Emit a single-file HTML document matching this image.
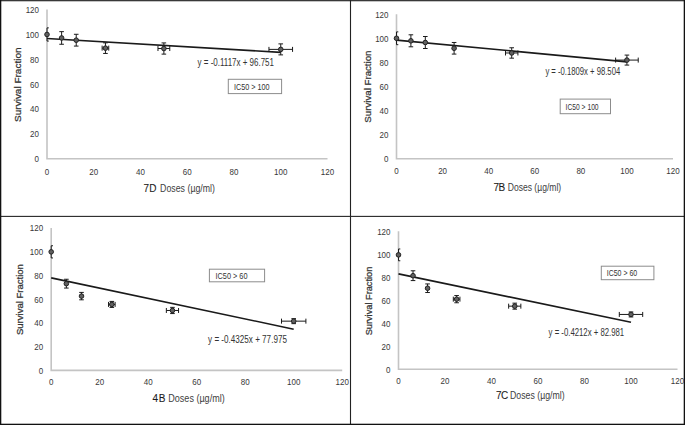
<!DOCTYPE html>
<html><head><meta charset="utf-8"><style>
html,body{margin:0;padding:0;background:#fff;}
body{width:685px;height:425px;overflow:hidden;}
svg{display:block;}
text{font-family:"Liberation Sans", sans-serif;}
.tk{font-size:9.4px;fill:#383838;}
.eq{font-size:10.2px;fill:#333;}
.bx{font-size:9px;fill:#333;}
.yt{font-size:9.3px;fill:#333;stroke:#333;stroke-width:0.25px;}
.xt{font-size:10px;fill:#404040;}
.xb{font-size:10px;fill:#1a1a1a;stroke:#1a1a1a;stroke-width:0.08px;}
</style></head><body>
<svg width="685" height="425" viewBox="0 0 685 425">
<rect x="0" y="0" width="685" height="425" fill="#fff"/>
<rect x="0" y="0" width="685" height="1.3" fill="#383838"/>
<rect x="349.95" y="0" width="1.1" height="425" fill="#222"/>
<rect x="0" y="215.85" width="685" height="1.1" fill="#262626"/>
<rect x="0" y="0" width="1.3" height="425" fill="#111"/>
<rect x="683.7" y="0" width="1.3" height="425" fill="#111"/>
<rect x="0" y="423.7" width="685" height="1.3" fill="#111"/>
<path d="M47 9.6V158.8H327.5" fill="none" stroke="#c4c4c4" stroke-width="1.6"/>
<text x="39" y="162.2" text-anchor="end" class="tk" textLength="4.45" lengthAdjust="spacingAndGlyphs">0</text>
<text x="39" y="137.33" text-anchor="end" class="tk" textLength="8.9" lengthAdjust="spacingAndGlyphs">20</text>
<text x="39" y="112.47" text-anchor="end" class="tk" textLength="8.9" lengthAdjust="spacingAndGlyphs">40</text>
<text x="39" y="87.6" text-anchor="end" class="tk" textLength="8.9" lengthAdjust="spacingAndGlyphs">60</text>
<text x="39" y="62.73" text-anchor="end" class="tk" textLength="8.9" lengthAdjust="spacingAndGlyphs">80</text>
<text x="39" y="37.87" text-anchor="end" class="tk" textLength="13.35" lengthAdjust="spacingAndGlyphs">100</text>
<text x="39" y="13" text-anchor="end" class="tk" textLength="13.35" lengthAdjust="spacingAndGlyphs">120</text>
<text x="47" y="174.8" text-anchor="middle" class="tk" textLength="4.45" lengthAdjust="spacingAndGlyphs">0</text>
<text x="93.75" y="174.8" text-anchor="middle" class="tk" textLength="8.9" lengthAdjust="spacingAndGlyphs">20</text>
<text x="140.5" y="174.8" text-anchor="middle" class="tk" textLength="8.9" lengthAdjust="spacingAndGlyphs">40</text>
<text x="187.25" y="174.8" text-anchor="middle" class="tk" textLength="8.9" lengthAdjust="spacingAndGlyphs">60</text>
<text x="234" y="174.8" text-anchor="middle" class="tk" textLength="8.9" lengthAdjust="spacingAndGlyphs">80</text>
<text x="280.75" y="174.8" text-anchor="middle" class="tk" textLength="13.35" lengthAdjust="spacingAndGlyphs">100</text>
<text x="327.5" y="174.8" text-anchor="middle" class="tk" textLength="13.35" lengthAdjust="spacingAndGlyphs">120</text>
<line x1="47" y1="38.51" x2="280.75" y2="52.39" stroke="#1a1a1a" stroke-width="1.6"/>
<path d="M47 27.87V41.07M47 27.87h1.8M47 41.07h1.8" stroke="#1a1a1a" stroke-width="1.0" fill="none"/>
<circle cx="47" cy="34.47" r="2.3" fill="#606060" stroke="#222" stroke-width="1.0"/>
<path d="M61.61 31.65V44.25M59.31 31.65h4.6M59.31 44.25h4.6" stroke="#1a1a1a" stroke-width="1.0" fill="none"/>
<circle cx="61.61" cy="37.95" r="2.3" fill="#606060" stroke="#222" stroke-width="1.0"/>
<path d="M76.22 34.29V46.09M73.92 34.29h4.6M73.92 46.09h4.6" stroke="#1a1a1a" stroke-width="1.0" fill="none"/>
<circle cx="76.22" cy="40.19" r="2.3" fill="#606060" stroke="#222" stroke-width="1.0"/>
<path d="M105.44 42.84V53.44M103.14 42.84h4.6M103.14 53.44h4.6M102.14 48.14H108.74M102.14 45.64v5M108.74 45.64v5" stroke="#1a1a1a" stroke-width="1.0" fill="none"/>
<circle cx="105.44" cy="48.14" r="2.3" fill="#606060" stroke="#222" stroke-width="1.0"/>
<path d="M163.88 42.92V54.12M161.57 42.92h4.6M161.57 54.12h4.6M157.97 48.52H169.78M157.97 46.02v5M169.78 46.02v5" stroke="#1a1a1a" stroke-width="1.0" fill="none"/>
<circle cx="163.88" cy="48.52" r="2.3" fill="#606060" stroke="#222" stroke-width="1.0"/>
<path d="M280.75 43.89V54.89M278.45 43.89h4.6M278.45 54.89h4.6M268.95 49.39H292.55M268.95 46.89v5M292.55 46.89v5" stroke="#1a1a1a" stroke-width="1.0" fill="none"/>
<circle cx="280.75" cy="49.39" r="2.3" fill="#606060" stroke="#222" stroke-width="1.0"/>
<text x="197.6" y="66.4" class="eq" textLength="76.4" lengthAdjust="spacingAndGlyphs">y = -0.1117x + 96.751</text>
<rect x="228.3" y="79.3" width="53.3" height="14.3" fill="#fff" stroke="#8c8c8c" stroke-width="1"/>
<text x="233.9" y="89.6" class="bx" style="font-size:9px" textLength="35.7" lengthAdjust="spacingAndGlyphs">IC50 > 100</text>
<text transform="translate(20.8 84.7) rotate(-90)" text-anchor="middle" class="yt" textLength="74.4" lengthAdjust="spacingAndGlyphs">Survival Fraction</text>
<text x="143.6" y="192.2" class="xb" textLength="13" lengthAdjust="spacing">7D</text>
<text x="160.1" y="192.2" class="xt" textLength="54.9" lengthAdjust="spacingAndGlyphs">Doses (&#181;g/ml)</text>
<path d="M396.5 14.2V158.7H673" fill="none" stroke="#c4c4c4" stroke-width="1.6"/>
<text x="388.5" y="162.1" text-anchor="end" class="tk" textLength="4.45" lengthAdjust="spacingAndGlyphs">0</text>
<text x="388.5" y="138.02" text-anchor="end" class="tk" textLength="8.9" lengthAdjust="spacingAndGlyphs">20</text>
<text x="388.5" y="113.93" text-anchor="end" class="tk" textLength="8.9" lengthAdjust="spacingAndGlyphs">40</text>
<text x="388.5" y="89.85" text-anchor="end" class="tk" textLength="8.9" lengthAdjust="spacingAndGlyphs">60</text>
<text x="388.5" y="65.77" text-anchor="end" class="tk" textLength="8.9" lengthAdjust="spacingAndGlyphs">80</text>
<text x="388.5" y="41.68" text-anchor="end" class="tk" textLength="13.35" lengthAdjust="spacingAndGlyphs">100</text>
<text x="388.5" y="17.6" text-anchor="end" class="tk" textLength="13.35" lengthAdjust="spacingAndGlyphs">120</text>
<text x="396.5" y="174.4" text-anchor="middle" class="tk" textLength="4.45" lengthAdjust="spacingAndGlyphs">0</text>
<text x="442.58" y="174.4" text-anchor="middle" class="tk" textLength="8.9" lengthAdjust="spacingAndGlyphs">20</text>
<text x="488.67" y="174.4" text-anchor="middle" class="tk" textLength="8.9" lengthAdjust="spacingAndGlyphs">40</text>
<text x="534.75" y="174.4" text-anchor="middle" class="tk" textLength="8.9" lengthAdjust="spacingAndGlyphs">60</text>
<text x="580.83" y="174.4" text-anchor="middle" class="tk" textLength="8.9" lengthAdjust="spacingAndGlyphs">80</text>
<text x="626.92" y="174.4" text-anchor="middle" class="tk" textLength="13.35" lengthAdjust="spacingAndGlyphs">100</text>
<text x="673" y="174.4" text-anchor="middle" class="tk" textLength="13.35" lengthAdjust="spacingAndGlyphs">120</text>
<line x1="396.5" y1="40.08" x2="626.92" y2="61.87" stroke="#1a1a1a" stroke-width="1.6"/>
<path d="M396.5 31.88V44.68M396.5 31.88h1.8M396.5 44.68h1.8" stroke="#1a1a1a" stroke-width="1.0" fill="none"/>
<circle cx="396.5" cy="38.28" r="2.3" fill="#606060" stroke="#222" stroke-width="1.0"/>
<path d="M410.9 34.81V46.81M408.6 34.81h4.6M408.6 46.81h4.6" stroke="#1a1a1a" stroke-width="1.0" fill="none"/>
<circle cx="410.9" cy="40.81" r="2.3" fill="#606060" stroke="#222" stroke-width="1.0"/>
<path d="M425.3 36.5V48.5M423 36.5h4.6M423 48.5h4.6" stroke="#1a1a1a" stroke-width="1.0" fill="none"/>
<circle cx="425.3" cy="42.5" r="2.3" fill="#606060" stroke="#222" stroke-width="1.0"/>
<path d="M454.1 42.48V54.08M451.8 42.48h4.6M451.8 54.08h4.6" stroke="#1a1a1a" stroke-width="1.0" fill="none"/>
<circle cx="454.1" cy="48.28" r="2.3" fill="#606060" stroke="#222" stroke-width="1.0"/>
<path d="M511.71 47.77V58.17M509.41 47.77h4.6M509.41 58.17h4.6M505.51 52.97H517.91M505.51 50.47v5M517.91 50.47v5" stroke="#1a1a1a" stroke-width="1.0" fill="none"/>
<circle cx="511.71" cy="52.97" r="2.3" fill="#606060" stroke="#222" stroke-width="1.0"/>
<path d="M626.92 55.08V65.08M624.62 55.08h4.6M624.62 65.08h4.6M615.62 60.08H638.22M615.62 57.58v5M638.22 57.58v5" stroke="#1a1a1a" stroke-width="1.0" fill="none"/>
<circle cx="626.92" cy="60.08" r="2.3" fill="#606060" stroke="#222" stroke-width="1.0"/>
<text x="545.4" y="75.4" class="eq" textLength="74.8" lengthAdjust="spacingAndGlyphs">y = -0.1809x + 98.504</text>
<rect x="560.2" y="99.1" width="50.3" height="14.6" fill="#fff" stroke="#8c8c8c" stroke-width="1"/>
<text x="565.6" y="109.6" class="bx" style="font-size:9px" textLength="33" lengthAdjust="spacingAndGlyphs">IC50 > 100</text>
<text transform="translate(370.8 86.6) rotate(-90)" text-anchor="middle" class="yt" textLength="72.2" lengthAdjust="spacingAndGlyphs">Survival Fraction</text>
<text x="493.4" y="191.2" class="xb" textLength="11.8" lengthAdjust="spacing">7B</text>
<text x="507.7" y="191.2" class="xt" textLength="53.5" lengthAdjust="spacingAndGlyphs">Doses (&#181;g/ml)</text>
<path d="M51.2 228V370.4H342.2" fill="none" stroke="#c4c4c4" stroke-width="1.6"/>
<text x="43.2" y="373.8" text-anchor="end" class="tk" textLength="4.45" lengthAdjust="spacingAndGlyphs">0</text>
<text x="43.2" y="350.07" text-anchor="end" class="tk" textLength="8.9" lengthAdjust="spacingAndGlyphs">20</text>
<text x="43.2" y="326.33" text-anchor="end" class="tk" textLength="8.9" lengthAdjust="spacingAndGlyphs">40</text>
<text x="43.2" y="302.6" text-anchor="end" class="tk" textLength="8.9" lengthAdjust="spacingAndGlyphs">60</text>
<text x="43.2" y="278.87" text-anchor="end" class="tk" textLength="8.9" lengthAdjust="spacingAndGlyphs">80</text>
<text x="43.2" y="255.13" text-anchor="end" class="tk" textLength="13.35" lengthAdjust="spacingAndGlyphs">100</text>
<text x="43.2" y="231.4" text-anchor="end" class="tk" textLength="13.35" lengthAdjust="spacingAndGlyphs">120</text>
<text x="51.2" y="385.4" text-anchor="middle" class="tk" textLength="4.45" lengthAdjust="spacingAndGlyphs">0</text>
<text x="99.7" y="385.4" text-anchor="middle" class="tk" textLength="8.9" lengthAdjust="spacingAndGlyphs">20</text>
<text x="148.2" y="385.4" text-anchor="middle" class="tk" textLength="8.9" lengthAdjust="spacingAndGlyphs">40</text>
<text x="196.7" y="385.4" text-anchor="middle" class="tk" textLength="8.9" lengthAdjust="spacingAndGlyphs">60</text>
<text x="245.2" y="385.4" text-anchor="middle" class="tk" textLength="8.9" lengthAdjust="spacingAndGlyphs">80</text>
<text x="293.7" y="385.4" text-anchor="middle" class="tk" textLength="13.35" lengthAdjust="spacingAndGlyphs">100</text>
<text x="342.2" y="385.4" text-anchor="middle" class="tk" textLength="13.35" lengthAdjust="spacingAndGlyphs">120</text>
<line x1="51.2" y1="277.87" x2="293.7" y2="329.19" stroke="#1a1a1a" stroke-width="1.6"/>
<path d="M51.2 245.75V257.95M51.2 245.75h1.8M51.2 257.95h1.8" stroke="#1a1a1a" stroke-width="1.0" fill="none"/>
<circle cx="51.2" cy="251.85" r="2.3" fill="#606060" stroke="#222" stroke-width="1.0"/>
<path d="M66.36 279.25V288.05M64.06 279.25h4.6M64.06 288.05h4.6" stroke="#1a1a1a" stroke-width="1.0" fill="none"/>
<circle cx="66.36" cy="283.65" r="2.3" fill="#606060" stroke="#222" stroke-width="1.0"/>
<path d="M81.51 292.41V299.81M79.21 292.41h4.6M79.21 299.81h4.6" stroke="#1a1a1a" stroke-width="1.0" fill="none"/>
<circle cx="81.51" cy="296.11" r="2.3" fill="#606060" stroke="#222" stroke-width="1.0"/>
<path d="M111.82 301.42V307.42M109.52 301.42h4.6M109.52 307.42h4.6M108.52 304.42H115.12M108.52 301.92v5M115.12 301.92v5" stroke="#1a1a1a" stroke-width="1.0" fill="none"/>
<circle cx="111.82" cy="304.42" r="2.3" fill="#606060" stroke="#222" stroke-width="1.0"/>
<path d="M172.45 307.37V313.57M170.15 307.37h4.6M170.15 313.57h4.6M166.35 310.47H178.55M166.35 307.97v5M178.55 307.97v5" stroke="#1a1a1a" stroke-width="1.0" fill="none"/>
<circle cx="172.45" cy="310.47" r="2.3" fill="#606060" stroke="#222" stroke-width="1.0"/>
<path d="M293.7 318.65V323.65M291.4 318.65h4.6M291.4 323.65h4.6M281.5 321.15H305.9M281.5 318.65v5M305.9 318.65v5" stroke="#1a1a1a" stroke-width="1.0" fill="none"/>
<circle cx="293.7" cy="321.15" r="2.3" fill="#606060" stroke="#222" stroke-width="1.0"/>
<text x="208.1" y="342.6" class="eq" textLength="78.8" lengthAdjust="spacingAndGlyphs">y = -0.4325x + 77.975</text>
<rect x="209.4" y="269.2" width="55.2" height="12.6" fill="#fff" stroke="#8c8c8c" stroke-width="1"/>
<text x="215.5" y="279.2" class="bx" style="font-size:8.2px" textLength="32" lengthAdjust="spacingAndGlyphs">IC50 > 60</text>
<text transform="translate(23.3 299.6) rotate(-90)" text-anchor="middle" class="yt" textLength="71" lengthAdjust="spacingAndGlyphs">Survival Fraction</text>
<text x="152.4" y="401.9" class="xb" textLength="13" lengthAdjust="spacing">4B</text>
<text x="168.3" y="401.9" class="xt" textLength="56.4" lengthAdjust="spacingAndGlyphs">Doses (&#181;g/ml)</text>
<path d="M398.5 231.3V369.3H677.5" fill="none" stroke="#c4c4c4" stroke-width="1.6"/>
<text x="390.5" y="372.7" text-anchor="end" class="tk" textLength="4.45" lengthAdjust="spacingAndGlyphs">0</text>
<text x="390.5" y="349.7" text-anchor="end" class="tk" textLength="8.9" lengthAdjust="spacingAndGlyphs">20</text>
<text x="390.5" y="326.7" text-anchor="end" class="tk" textLength="8.9" lengthAdjust="spacingAndGlyphs">40</text>
<text x="390.5" y="303.7" text-anchor="end" class="tk" textLength="8.9" lengthAdjust="spacingAndGlyphs">60</text>
<text x="390.5" y="280.7" text-anchor="end" class="tk" textLength="8.9" lengthAdjust="spacingAndGlyphs">80</text>
<text x="390.5" y="257.7" text-anchor="end" class="tk" textLength="13.35" lengthAdjust="spacingAndGlyphs">100</text>
<text x="390.5" y="234.7" text-anchor="end" class="tk" textLength="13.35" lengthAdjust="spacingAndGlyphs">120</text>
<text x="398.5" y="384.1" text-anchor="middle" class="tk" textLength="4.45" lengthAdjust="spacingAndGlyphs">0</text>
<text x="445" y="384.1" text-anchor="middle" class="tk" textLength="8.9" lengthAdjust="spacingAndGlyphs">20</text>
<text x="491.5" y="384.1" text-anchor="middle" class="tk" textLength="8.9" lengthAdjust="spacingAndGlyphs">40</text>
<text x="538" y="384.1" text-anchor="middle" class="tk" textLength="8.9" lengthAdjust="spacingAndGlyphs">60</text>
<text x="584.5" y="384.1" text-anchor="middle" class="tk" textLength="8.9" lengthAdjust="spacingAndGlyphs">80</text>
<text x="631" y="384.1" text-anchor="middle" class="tk" textLength="13.35" lengthAdjust="spacingAndGlyphs">100</text>
<text x="677.5" y="384.1" text-anchor="middle" class="tk" textLength="13.35" lengthAdjust="spacingAndGlyphs">120</text>
<line x1="398.5" y1="273.87" x2="631" y2="322.31" stroke="#1a1a1a" stroke-width="1.6"/>
<path d="M398.5 248.97V260.77M398.5 248.97h1.8M398.5 260.77h1.8" stroke="#1a1a1a" stroke-width="1.0" fill="none"/>
<circle cx="398.5" cy="254.88" r="2.3" fill="#606060" stroke="#222" stroke-width="1.0"/>
<path d="M413.03 270.79V280.59M410.73 270.79h4.6M410.73 280.59h4.6" stroke="#1a1a1a" stroke-width="1.0" fill="none"/>
<circle cx="413.03" cy="275.69" r="2.3" fill="#606060" stroke="#222" stroke-width="1.0"/>
<path d="M427.56 283.93V292.53M425.26 283.93h4.6M425.26 292.53h4.6" stroke="#1a1a1a" stroke-width="1.0" fill="none"/>
<circle cx="427.56" cy="288.23" r="2.3" fill="#606060" stroke="#222" stroke-width="1.0"/>
<path d="M456.62 295.55V302.75M454.32 295.55h4.6M454.32 302.75h4.6M453.32 299.15H459.93M453.32 296.65v5M459.93 296.65v5" stroke="#1a1a1a" stroke-width="1.0" fill="none"/>
<circle cx="456.62" cy="299.15" r="2.3" fill="#606060" stroke="#222" stroke-width="1.0"/>
<path d="M514.75 303.17V309.17M512.45 303.17h4.6M512.45 309.17h4.6M508.65 306.17H520.85M508.65 303.67v5M520.85 303.67v5" stroke="#1a1a1a" stroke-width="1.0" fill="none"/>
<circle cx="514.75" cy="306.17" r="2.3" fill="#606060" stroke="#222" stroke-width="1.0"/>
<path d="M631 311.94V316.94M628.7 311.94h4.6M628.7 316.94h4.6M619.3 314.44H642.7M619.3 311.94v5M642.7 311.94v5" stroke="#1a1a1a" stroke-width="1.0" fill="none"/>
<circle cx="631" cy="314.44" r="2.3" fill="#606060" stroke="#222" stroke-width="1.0"/>
<text x="548.6" y="335.8" class="eq" textLength="75.6" lengthAdjust="spacingAndGlyphs">y = -0.4212x + 82.981</text>
<rect x="601.3" y="266.2" width="52.6" height="13.5" fill="#fff" stroke="#8c8c8c" stroke-width="1"/>
<text x="606.7" y="276.2" class="bx" style="font-size:9px" textLength="30.5" lengthAdjust="spacingAndGlyphs">IC50 > 60</text>
<text transform="translate(371.8 301) rotate(-90)" text-anchor="middle" class="yt" textLength="68.7" lengthAdjust="spacingAndGlyphs">Survival Fraction</text>
<text x="496.1" y="398.9" class="xb" textLength="12.1" lengthAdjust="spacing">7C</text>
<text x="510" y="398.9" class="xt" textLength="54.6" lengthAdjust="spacingAndGlyphs">Doses (&#181;g/ml)</text>
</svg>
</body></html>
